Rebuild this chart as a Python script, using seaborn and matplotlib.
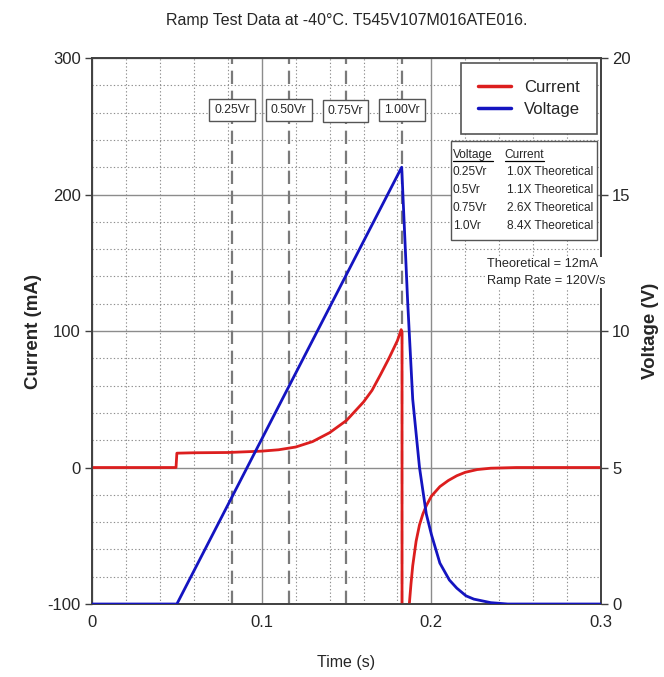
import numpy as np
import pandas as pd
import matplotlib
matplotlib.use("Agg")
import matplotlib.pyplot as plt
import seaborn as sns
from matplotlib.lines import Line2D
from matplotlib.patches import Rectangle
from matplotlib.ticker import MultipleLocator

# current trace (mA)
cur_time = [0.0, 0.0495, 0.0500, 0.060, 0.080, 0.100, 0.110, 0.120, 0.130,
            0.140, 0.150, 0.160, 0.165, 0.170, 0.175, 0.180, 0.1822, 0.1827,
            0.1827, 0.1866, 0.187, 0.188, 0.189, 0.191, 0.193, 0.195, 0.197,
            0.200, 0.205, 0.210, 0.215, 0.220, 0.227, 0.235, 0.250, 0.300]
cur_ma = [0.0, 0.0, 10.5, 10.8, 11.0, 12.0, 13.0, 15.0, 19.0,
          25.5, 34.5, 48.0, 56.5, 68.0, 80.0, 93.0, 101.0, 99.0,
          -110.0, -110.0, -100.0, -85.0, -72.0, -54.0, -42.0, -34.0, -28.0,
          -21.0, -14.0, -9.5, -6.0, -3.5, -1.5, -0.5, 0.0, 0.0]

# voltage trace (V)
volt_time = [0.0, 0.050, 0.1825, 0.1860, 0.1890, 0.1930, 0.1970, 0.2000,
             0.2050, 0.2106, 0.2150, 0.2204, 0.2250, 0.2350, 0.2450, 0.3000]
volt_v = [0.0, 0.0, 16.0, 11.1, 7.5, 5.0, 3.3, 2.55,
          1.5, 0.88, 0.58, 0.3, 0.18, 0.05, 0.0, 0.0]

# rated-voltage markers
vr_labels = ["0.25Vr", "0.50Vr", "0.75Vr", "1.00Vr"]
vr_times = [0.0825, 0.1159, 0.1494, 0.1825]
vr_label_y = [262, 262, 261, 262]

table_voltage = ["0.25Vr", "0.5Vr", "0.75Vr", "1.0Vr"]
table_current = ["1.0X Theoretical", "1.1X Theoretical",
                 "2.6X Theoretical", "8.4X Theoretical"]

RED = "#dc1e1e"
BLUE = "#1414c0"

sns.set_style("white")
plt.rcParams["font.family"] = ["Liberation Sans", "DejaVu Sans"]
plt.rcParams["axes.unicode_minus"] = False

df_i = pd.DataFrame({"t": cur_time, "i": cur_ma})
df_v = pd.DataFrame({"t": volt_time, "v": volt_v})

fig = plt.figure(figsize=(6.64, 6.77), dpi=100)
ax = fig.add_axes([0.1386, 0.1078, 0.7666, 0.8065])
ax2 = ax.twinx()

# grid
ax.xaxis.set_major_locator(MultipleLocator(0.1))
ax.xaxis.set_minor_locator(MultipleLocator(0.02))
ax.yaxis.set_major_locator(MultipleLocator(100))
ax.yaxis.set_minor_locator(MultipleLocator(20))
ax.grid(which="major", color="#8c8c8c", lw=1.0, ls="-")
ax.grid(which="minor", color="#8f8f8f", lw=0.8, ls=(0, (1.2, 2)))
ax.set_axisbelow(True)

for t in vr_times:
    ax.axvline(t, color="#7a7a7a", lw=1.6, ls=(0, (6, 3)), zorder=1.5)

sns.lineplot(data=df_i, x="t", y="i", ax=ax, sort=False, estimator=None,
             color=RED, lw=2, zorder=3)
sns.lineplot(data=df_v, x="t", y="v", ax=ax2, sort=False, estimator=None,
             color=BLUE, lw=2, zorder=3)

ax.set_xlim(0, 0.3)
ax.set_ylim(-100, 300)
ax2.set_ylim(0, 20)
ax2.yaxis.set_major_locator(MultipleLocator(5))
ax.set_xticks([0, 0.1, 0.2, 0.3])
ax.set_xticklabels(["0", "0.1", "0.2", "0.3"])

for a in (ax, ax2):
    for s in a.spines.values():
        s.set_color("#404040")
        s.set_linewidth(1.2)
    a.tick_params(which="major", length=5, width=1, color="#404040",
                  labelsize=12, pad=3)
    a.tick_params(which="minor", length=0)

ax.set_xlabel("Time (s)", fontsize=11.5, labelpad=18)
ax.set_ylabel("Current (mA)", fontsize=13.5, fontweight="bold", labelpad=4)
ax2.set_ylabel("Voltage (V)", fontsize=13.5, fontweight="bold", labelpad=8)
ax.set_title("Ramp Test Data at -40°C. T545V107M016ATE016.", fontsize=11.5, pad=24)

for lab, t, y in zip(vr_labels, vr_times, vr_label_y):
    ax.text(t, y, lab, ha="center", va="center", fontsize=8.8, zorder=4,
            bbox=dict(boxstyle="square,pad=0.42", fc="white", ec="#555555", lw=1))

# legend
handles = [Line2D([], [], color=RED, lw=2.5), Line2D([], [], color=BLUE, lw=2.5)]
leg = ax2.legend(handles, ["Current", "Voltage"], loc="upper right",
                 bbox_to_anchor=(0.992, 0.991), fontsize=12, frameon=True,
                 fancybox=False, framealpha=1, edgecolor="#555555",
                 handlelength=2.0, borderpad=1.0, labelspacing=0.45,
                 handletextpad=0.8, borderaxespad=0)
leg.get_frame().set_linewidth(1.2)

# table box
ax2.add_patch(Rectangle((0.705, 0.667), 0.287, 0.181, transform=ax2.transAxes,
                        fc="white", ec="#555555", lw=1, zorder=4))
tfs = 8.6
headers = [ax2.text(0.709, 0.822, "Voltage", transform=ax2.transAxes,
                    fontsize=tfs, va="center", ha="left", zorder=5),
           ax2.text(0.811, 0.822, "Current", transform=ax2.transAxes,
                    fontsize=tfs, va="center", ha="left", zorder=5)]
row_y = [0.791, 0.758, 0.725, 0.692]
for v, c, y in zip(table_voltage, table_current, row_y):
    ax2.text(0.709, y, v, transform=ax2.transAxes, fontsize=tfs,
             va="center", ha="left", zorder=5)
    ax2.text(0.816, y, c, transform=ax2.transAxes, fontsize=tfs,
             va="center", ha="left", zorder=5)

# underline the table headers
fig.canvas.draw()
renderer = fig.canvas.get_renderer()
for h in headers:
    bb = h.get_window_extent(renderer).transformed(fig.transFigure.inverted())
    fig.add_artist(Line2D([bb.x0, bb.x1], [bb.y0 + 0.001, bb.y0 + 0.001],
                          transform=fig.transFigure, color="black", lw=0.9,
                          zorder=6))

ax2.text(0.775, 0.607, "Theoretical = 12mA\nRamp Rate = 120V/s",
         transform=ax2.transAxes, fontsize=9.2, va="center", ha="left",
         linespacing=1.55, zorder=5,
         bbox=dict(boxstyle="square,pad=0.1", fc="white", ec="none"))

fig.savefig("out.png", dpi=100)
